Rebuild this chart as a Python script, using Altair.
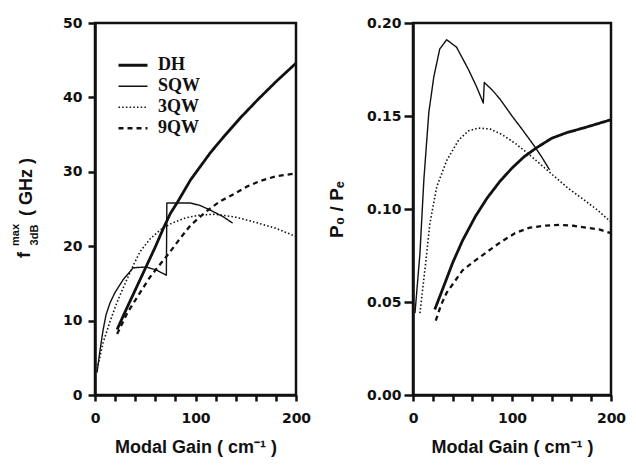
import altair as alt
import pandas as pd

series = ["DH", "SQW", "3QW", "9QW"]

# ---------- Left panel: f_3dB^max (GHz) vs modal gain ----------
dh_fx = [22, 30, 40, 50, 60, 68, 75, 82, 95, 102, 115, 128, 145, 162, 180, 200]
dh_fy = [8.8, 11.2, 14.1, 17.0, 19.9, 22.4, 24.4, 25.9, 28.9, 30.2, 32.6, 34.7, 37.3, 39.7, 42.1, 44.6]

sqw_fx = [2, 5, 8, 11, 15, 20, 28, 38, 51, 61, 71, 71.5, 80, 95, 104, 114, 127, 137]
sqw_fy = [3.0, 6.0, 8.7, 10.8, 12.4, 13.8, 15.5, 17.1, 17.2, 16.8, 16.1, 25.8, 25.8, 25.8, 25.5, 24.9, 24.0, 23.1]

q3_fx = [3, 8, 15, 22, 30, 38, 45, 55, 65, 75, 90, 105, 120, 140, 160, 180, 200]
q3_fy = [4.0, 7.0, 9.9, 12.5, 15.0, 17.4, 19.3, 21.0, 22.2, 23.0, 23.8, 24.2, 24.3, 23.9, 23.2, 22.4, 21.3]

q9_fx = [22, 32, 45, 55, 65, 75, 85, 95, 110, 124, 138, 151, 165, 180, 200]
q9_fy = [8.2, 11.0, 13.8, 15.9, 17.6, 19.3, 21.1, 22.8, 24.6, 26.0, 27.0, 28.0, 28.8, 29.4, 29.8]

# ---------- Right panel: P0 / Pe vs modal gain ----------
dh_px = [22, 30, 40, 50, 63, 75, 88, 100, 112, 125, 140, 155, 175, 200]
dh_py = [0.046, 0.057, 0.071, 0.083, 0.096, 0.106, 0.115, 0.122, 0.128, 0.133, 0.138, 0.141, 0.144, 0.148]

sqw_px = [2, 7, 11, 16, 21, 27, 34, 44, 56, 64, 71, 72, 80, 88, 100, 110, 121, 130, 138]
sqw_py = [0.044, 0.076, 0.116, 0.152, 0.171, 0.186, 0.191, 0.187, 0.175, 0.166, 0.157, 0.168, 0.164, 0.159, 0.150, 0.143, 0.135, 0.128, 0.121]

q3_px = [7, 10, 13, 17, 24, 34, 46, 56, 66, 78, 90, 104, 118, 131, 144, 157, 170, 185, 200]
q3_py = [0.044, 0.058, 0.072, 0.092, 0.112, 0.126, 0.137, 0.142, 0.1435, 0.143, 0.140, 0.135, 0.129, 0.123, 0.117, 0.111, 0.106, 0.100, 0.093]

q9_px = [23, 28, 34, 42, 50, 62, 75, 88, 103, 118, 133, 148, 162, 175, 188, 200]
q9_py = [0.040, 0.048, 0.055, 0.061, 0.067, 0.072, 0.077, 0.082, 0.087, 0.090, 0.091, 0.0915, 0.091, 0.090, 0.089, 0.087]


def frame(pairs):
    rows = []
    for name, xs, ys in pairs:
        for i, (x, y) in enumerate(zip(xs, ys)):
            rows.append({"series": name, "gain": x, "val": y, "idx": i})
    return pd.DataFrame(rows)


left_df = frame([("DH", dh_fx, dh_fy), ("SQW", sqw_fx, sqw_fy), ("3QW", q3_fx, q3_fy), ("9QW", q9_fx, q9_fy)])
right_df = frame([("DH", dh_px, dh_py), ("SQW", sqw_px, sqw_py), ("3QW", q3_px, q3_py), ("9QW", q9_px, q9_py)])

INK = "#111111"
FONT = "Liberation Sans"
LFONT = "DejaVu Sans"
dash_scale = alt.Scale(type="ordinal", domain=series, range=[[1, 0], [1, 0], [1.5, 2.2], [5, 4]])
width_scale = alt.Scale(type="ordinal", domain=series, range=[2.8, 1.4, 1.6, 2.3])

x_ticks = list(range(0, 201, 20))
x_axis = alt.Axis(
    values=x_ticks, labelExpr="datum.value % 100 == 0 ? datum.label : ''",
    title="Modal Gain  ( cm\u207b\u00b9 )", grid=False, tickSize=6, tickWidth=2.5,
    domainWidth=2.5, domainColor=INK, tickColor=INK, labelFont=LFONT, labelFontSize=14,
    labelFontWeight="bold", labelColor=INK, labelPadding=10, labelFlush=False,
    titleFont=FONT, titleFontSize=18, titleFontWeight="bold", titleColor=INK,
    titlePadding=13,
)

legend = alt.Legend(
    title=None, orient="none", legendX=22, legendY=32, symbolType="stroke",
    symbolSize=841, symbolStrokeColor=INK, labelFont="Liberation Serif",
    labelFontSize=18, labelFontWeight="bold", labelColor=INK, labelOffset=9,
    clipHeight=20.5, rowPadding=0, padding=0,
)

left_lines = alt.Chart(left_df).mark_line(color=INK, strokeJoin="round").encode(
    x=alt.X("gain:Q", scale=alt.Scale(domain=[0, 200], nice=False), axis=x_axis),
    y=alt.Y("val:Q", scale=alt.Scale(domain=[0, 50]), axis=alt.Axis(
        values=[0, 10, 20, 30, 40, 50], title=None, grid=False, tickSize=7, tickWidth=2.5,
        domainWidth=2.5, domainColor=INK, tickColor=INK, labelFont=LFONT, labelFontSize=14,
        labelFontWeight="bold", labelColor=INK, labelPadding=6, labelFlush=False)),
    strokeDash=alt.StrokeDash("series:N", scale=dash_scale, legend=legend),
    strokeWidth=alt.StrokeWidth("series:N", scale=width_scale, legend=legend),
    detail="series:N",
    order="idx:Q",
)


def label(text, px, py, size, weight="bold"):
    return alt.Chart(pd.DataFrame({"t": [text]})).mark_text(
        angle=270, font=FONT, fontSize=size, fontWeight=weight, color=INK,
        align="center", baseline="middle").encode(
        x=alt.value(px), y=alt.value(py), text="t:N")


left_title = (
    label("f", -70, 232, 18)
    + label("max", -79, 212, 11)
    + label("3dB", -60, 212, 11)
    + label("( GHz )", -68, 164, 18)
)

left = alt.layer(left_lines, left_title).properties(width=201, height=372)

right = alt.Chart(right_df).mark_line(color=INK, strokeJoin="round").encode(
    x=alt.X("gain:Q", scale=alt.Scale(domain=[0, 200], nice=False), axis=x_axis),
    y=alt.Y("val:Q", scale=alt.Scale(domain=[0, 0.2]), axis=alt.Axis(
        values=[0, 0.05, 0.10, 0.15, 0.20], format=".2f", title="P\u2080  /  P\u2091",
        grid=False, tickSize=9, tickWidth=2.5, domainWidth=2.5, domainColor=INK,
        tickColor=INK, labelFont=LFONT, labelFontSize=14, labelFontWeight="bold",
        labelColor=INK, labelPadding=3, labelFlush=False, titleFont=FONT,
        titleFontSize=19, titleFontWeight="bold", titleColor=INK, titlePadding=20)),
    strokeDash=alt.StrokeDash("series:N", scale=dash_scale, legend=None),
    strokeWidth=alt.StrokeWidth("series:N", scale=width_scale, legend=None),
    detail="series:N",
    order="idx:Q",
).properties(width=198, height=372)

chart = alt.hconcat(left, right, spacing=14).resolve_scale(
    strokeDash="independent", strokeWidth="independent"
).configure_view(stroke=INK, strokeWidth=2.5).properties(
    padding={"left": 0, "top": 6, "right": 0, "bottom": 0}
)

chart.save("out.html", embed_options={"renderer": "svg", "actions": False})
